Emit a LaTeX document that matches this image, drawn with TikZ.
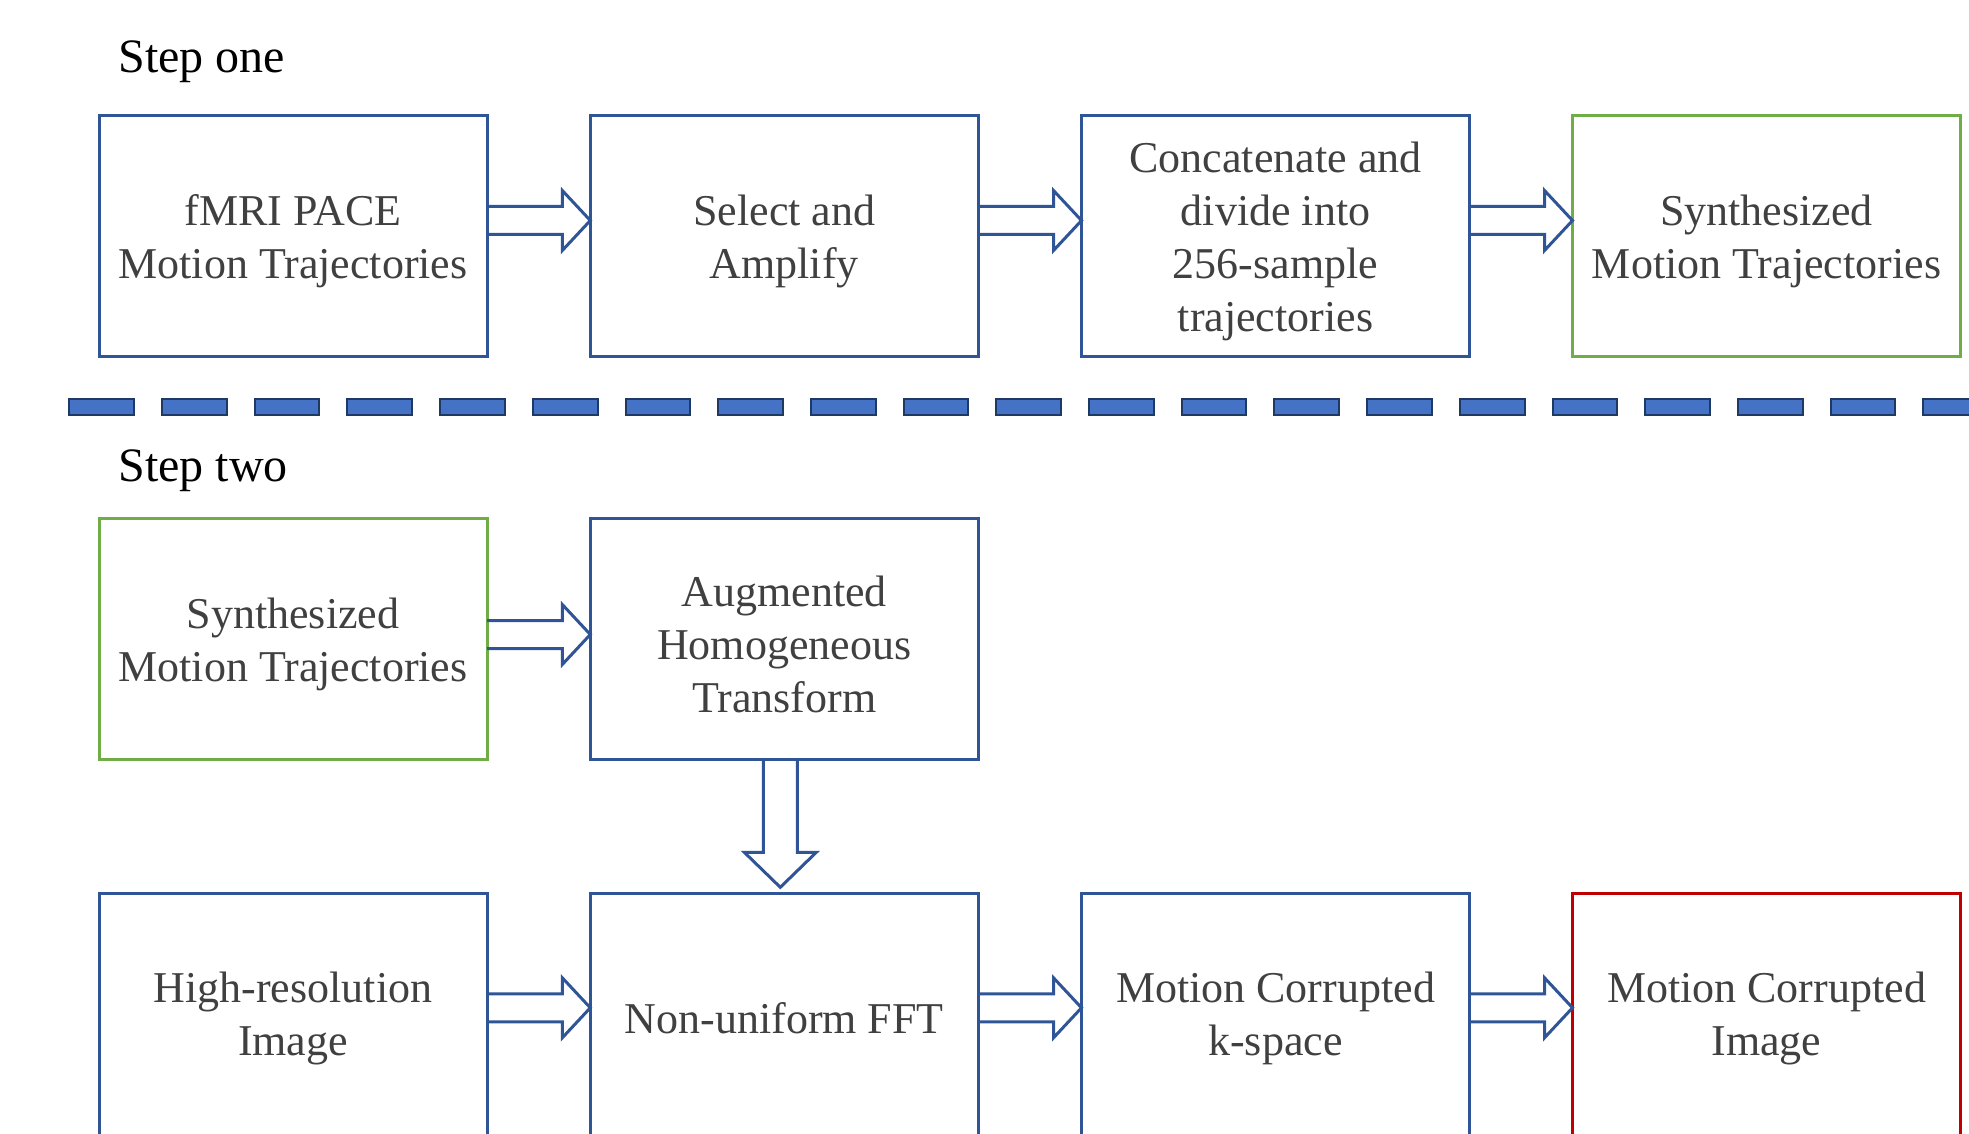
\documentclass[tikz,border=0pt]{standalone}
\usepackage{fontspec}
\setmainfont{Liberation Serif}
\usepackage{xcolor}
\usetikzlibrary{calc}

\definecolor{boxblue}{HTML}{2F5597}
\definecolor{boxgreen}{HTML}{70AD47}
\definecolor{boxred}{HTML}{C00000}
\definecolor{barfill}{HTML}{4472C4}
\definecolor{barline}{HTML}{203864}
\definecolor{textgray}{HTML}{404040}

% taller first line, pushes the text of a box a little down
\newcommand{\topgap}{\rule{0pt}{21pt}}
% hollow arrow from the right side of #1 to the left side of #2, shifted by #3
\newcommand{\fatarrow}[3]{%
  \draw[flow] ($(#1.east)+(0,#3-14)$) -- ($(#2.west)+(-28,#3-14)$) -- ++(0,-16)
    -- ($(#2.west)+(0,#3)$) -- ($(#2.west)+(-28,#3+30)$) -- ++(0,-16)
    -- ($(#1.east)+(0,#3+14)$);}
% hollow arrow from the bottom of #1 down to the top of #2, shifted by #3
\newcommand{\fatdown}[3]{%
  \draw[flow] ($(#1.south)+(#3-17,0)$) -- ($(#2.north)+(#3-17,-41)$) -- ++(-19,0)
    -- ($(#2.north)+(#3,-6)$) -- ($(#2.north)+(#3+36,-41)$) -- ++(-19,0)
    -- ($(#1.south)+(#3+17,0)$);}

\begin{document}
\begin{tikzpicture}
  [x=0.5pt,y=-0.5pt,
   box/.style={draw=boxblue,line width=1.5pt,minimum width=194pt,minimum height=120.5pt,
     inner sep=0pt,outer sep=0pt,align=center,text=textgray,
     font=\fontsize{22}{26.5}\selectfont},
   greenbox/.style={box,draw=boxgreen},
   redbox/.style={box,draw=boxred},
   lowbox/.style={minimum height=125pt},
   flow/.style={draw=boxblue,line width=1.5pt,line join=miter},
   bar/.style={fill=barfill,draw=barline,line width=1pt},
   steplabel/.style={anchor=base west,inner sep=0pt,font=\fontsize{24}{29}\selectfont}]
  \useasboundingbox (0,0) rectangle (1969,1134);

  % step one
  \node[steplabel] (l1) at (118,73) {Step one};
  \node[box] (a1) at (293,236) {\topgap fMRI PACE\\Motion Trajectories};
  \node[box] (a2) at (784.3,236) {\topgap Select and\\Amplify};
  \node[box] (a3) at (1275.5,236) {\topgap Concatenate and\\divide into\\256-sample\\trajectories};
  \node[greenbox] (a4) at (1766.5,236) {\topgap Synthesized\\Motion Trajectories};

  \foreach \from/\to in {a1/a2,a2/a3,a3/a4}
    \fatarrow{\from}{\to}{-15.5};

  % separator
  \foreach \i in {0,...,20}
    \draw[bar] ({69.3+92.7*\i},398.7) rectangle ++(64.7,16);

  % step two
  \node[steplabel] (l2) at (118,481) {Step two};
  \node[greenbox] (b1) at (293,639) {\topgap Synthesized\\Motion Trajectories};
  \node[box] (b2) at (784.3,639) {\topgap Augmented\\Homogeneous\\Transform};

  \node[box,lowbox] (c1) at (293,1018.3) {High-resolution\\Image};
  \node[box,lowbox] (c2) at (784.3,1018.3) {Non-uniform FFT};
  \node[box,lowbox] (c3) at (1275.5,1018.3) {Motion Corrupted\\k-space};
  \node[redbox,lowbox] (c4) at (1766.5,1018.3) {Motion Corrupted\\Image};

  \fatarrow{b1}{b2}{-4.5};
  \fatdown{b2}{c2}{-4};
  \foreach \from/\to in {c1/c2,c2/c3,c3/c4}
    \fatarrow{\from}{\to}{-10.5};

\end{tikzpicture}
\end{document}
